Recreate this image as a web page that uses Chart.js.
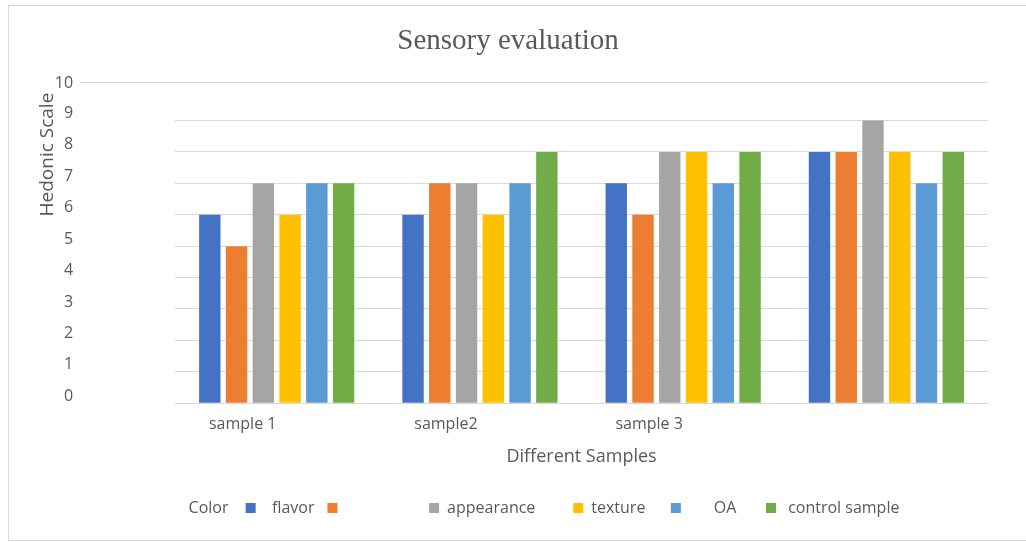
<!DOCTYPE html>
<html><head><meta charset="utf-8">
<script src="https://cdn.jsdelivr.net/npm/chart.js@4.4.1/dist/chart.umd.min.js"></script>
<style>
html,body{margin:0;padding:0;background:#fff;}
#wrap{position:relative;width:1026px;height:542px;overflow:hidden;}
#frame{position:absolute;left:8px;top:5px;width:1040px;height:534px;border:1px solid #d9d9d9;pointer-events:none;}
canvas{position:absolute;left:0;top:0;}
</style></head><body>
<div id="wrap"><canvas id="c" width="1026" height="542"></canvas><div id="frame"></div></div>
<script>
// ---- data ----
const categories = ['sample 1', 'sample2', 'sample 3', ''];
const legendLead = 'Color';
const seriesNames = ['flavor', '', 'appearance', 'texture', 'OA', 'control sample'];
const seriesBlue = [6, 6, 7, 8];
const seriesOrange = [5, 7, 6, 8];
const seriesGray = [7, 7, 8, 9];
const seriesYellow = [6, 6, 8, 8];
const seriesLightBlue = [7, 7, 7, 7];
const seriesGreen = [7, 8, 8, 8];
const yTickLabels = ['0','1','2','3','4','5','6','7','8','9','10'];
const yTickValues = [0,1,2,3,4,5,6,7,8,9,10];

// ---- style ----
const colors = ['#4472C4', '#ED7D31', '#A5A5A5', '#FFC000', '#5B9BD5', '#70AD47'];
const allSeries = [seriesBlue, seriesOrange, seriesGray, seriesYellow, seriesLightBlue, seriesGreen];
// leading / trailing spaces reproduce the uneven spacing of the original legend
const legendLeadSp = ['             ', ' '];
const legendSp = [['  ', ''], ['', '                 '], ['', '      '], ['', '   '], ['      ', '    '], [' ', '']];

const sans = "'Open Sans', 'Noto Sans', sans-serif";
const textColor = '#595959';
const gridColor = '#d9d9d9';
const yTop = 10.2; // top gridline sits slightly above the regular spacing in the original

const datasets = allSeries.map((d, i) => ({
  label: seriesNames[i],
  data: d,
  backgroundColor: colors[i],
  borderWidth: 0,
  barPercentage: 0.8,
  categoryPercentage: 0.79
}));

new Chart(document.getElementById('c'), {
  type: 'bar',
  data: { labels: categories, datasets },
  options: {
    responsive: false,
    animation: false,
    devicePixelRatio: 1,
    layout: { padding: { left: 28, right: 38, top: 0, bottom: 16 } },
    plugins: {
      title: {
        display: true,
        text: 'Sensory evaluation',
        color: textColor,
        font: { family: "'Liberation Serif', 'DejaVu Serif', serif", size: 29, weight: 'normal' },
        padding: { top: 24, bottom: 24 }
      },
      legend: {
        position: 'bottom',
        labels: {
          color: textColor,
          font: { family: sans, size: 16 },
          boxWidth: 10,
          boxHeight: 10,
          padding: 13,
          generateLabels(chart) {
            const items = Chart.defaults.plugins.legend.labels.generateLabels(chart);
            items.forEach((it, i) => {
              it.text = legendSp[i][0] + it.text + legendSp[i][1];
              it.lineWidth = 0;
              it.strokeStyle = 'rgba(0,0,0,0)';
              it.fontColor = textColor;
            });
            return [{ text: legendLeadSp[0] + legendLead + legendLeadSp[1], fillStyle: 'rgba(0,0,0,0)', strokeStyle: 'rgba(0,0,0,0)', lineWidth: 0, hidden: false, fontColor: textColor, datasetIndex: -1 }].concat(items);
          }
        },
        onClick: null
      },
      tooltip: { enabled: false }
    },
    scales: {
      x: {
        grid: { display: false, drawTicks: false },
        border: { display: false },
        ticks: { color: textColor, font: { family: sans, size: 16 }, padding: 12, labelOffset: -34, maxRotation: 0, autoSkip: false },
        title: { display: true, text: 'Different Samples', color: textColor, font: { family: sans, size: 18 }, padding: { top: 0, bottom: 19 } }
      },
      y: {
        min: 0,
        max: yTop,
        afterBuildTicks(scale) {
          scale.ticks = yTickValues.map(v => ({ value: v === yTickValues[yTickValues.length - 1] ? yTop : v }));
        },
        grid: {
          color: gridColor,
          lineWidth: 1,
          drawTicks: true,
          tickLength: 95,
          tickWidth: 1,
          tickColor: ctx => (ctx.index === yTickValues.length - 1 ? gridColor : 'rgba(0,0,0,0)')
        },
        border: { display: false },
        ticks: {
          color: textColor,
          font: { family: sans, size: 16, lineHeight: 1 },
          padding: 7,
          labelOffset: -7,
          autoSkip: false,
          callback: (v, i) => (i === yTickLabels.length - 1 ? ['', yTickLabels[i]] : yTickLabels[i])
        },
        title: { display: true, text: 'Hedonic Scale  ', align: 'end', color: textColor, font: { family: sans, size: 19 }, padding: { top: 8, bottom: -11 } }
      }
    }
  }
});
</script>
</body></html>
